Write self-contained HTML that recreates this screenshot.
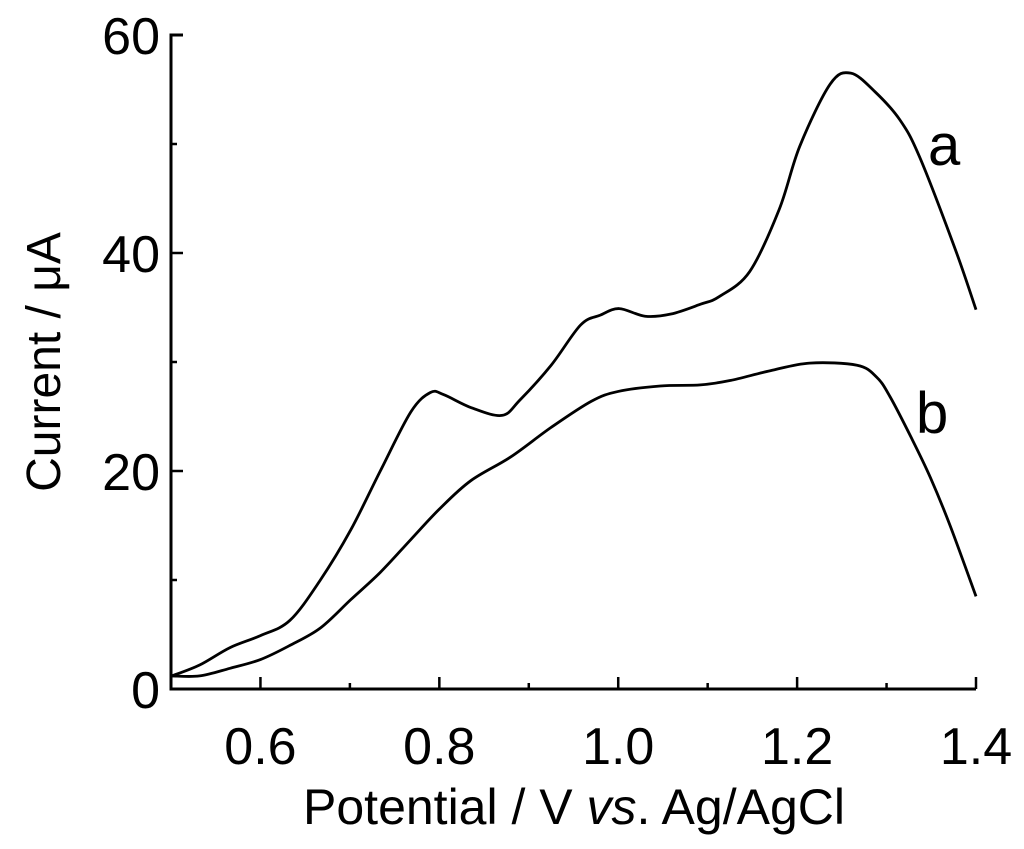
<!DOCTYPE html>
<html><head><meta charset="utf-8"><style>
html,body{margin:0;padding:0;background:#fff;}
svg{display:block;font-family:"Liberation Sans",sans-serif;}
</style></head><body>
<svg id="chart" width="1024" height="849"></svg>
<script>
const xTicks=[0.6,0.8,1.0,1.2,1.4];
const xTickLabels=["0.6","0.8","1.0","1.2","1.4"];
const yTicks=[0,20,40,60];
const yTickLabels=["0","20","40","60"];
const seriesAV=[0.501,0.532,0.566,0.6,0.633,0.667,0.701,0.734,0.768,0.79,0.805,0.836,0.87,0.89,0.925,0.958,0.98,1.001,1.03,1.059,1.092,1.113,1.147,1.18,1.203,1.237,1.26,1.287,1.315,1.337,1.377,1.4];
const seriesAI=[1.2,2.2,3.8,4.9,6.3,10,14.6,20,25.4,27.2,27,25.8,25.1,26.5,29.7,33.4,34.3,34.9,34.2,34.4,35.3,36,38.3,44,49.8,55.5,56.5,54.8,52.2,48.8,40.3,34.8];
const seriesBV=[0.501,0.532,0.566,0.6,0.633,0.667,0.701,0.734,0.768,0.8,0.835,0.88,0.925,0.97,1.0,1.047,1.092,1.125,1.17,1.214,1.267,1.289,1.304,1.328,1.349,1.371,1.4];
const seriesBI=[1.2,1.2,1.9,2.7,4.0,5.6,8.2,10.7,13.7,16.5,19.1,21.3,24.0,26.4,27.3,27.8,27.9,28.3,29.2,29.9,29.7,28.6,26.8,23.0,19.4,15.0,8.5];
const NS="http://www.w3.org/2000/svg";
const svg=document.getElementById('chart');
const X0=171,X1=976,YB=689,YT=35;
function xs(v){return X0+(v-0.5)/0.9*(X1-X0);}
function ys(v){return YB-(v/60)*(YB-YT);}
function mk(t,a){const e=document.createElementNS(NS,t);for(const k in a)e.setAttribute(k,a[k]);svg.appendChild(e);return e;}
let ax=mk('path',{d:`M${X0+12},${YT} L${X0},${YT} L${X0},${YB} L${X1},${YB}`,fill:'none',stroke:'#000','stroke-width':3});


for(let k=6;k<=14;k++){const v=k/10;const major=k%2==0;
 const t=mk('line',{x1:xs(v),x2:xs(v),y1:YB,y2:YB-(major?12:6),stroke:'#000','stroke-width':2.5});
 
 }
for(let v=10;v<60;v+=10){const major=v%20==0;
 const t=mk('line',{x1:X0,x2:X0+(major?12:6),y1:ys(v),y2:ys(v),stroke:'#000','stroke-width':2.5});
 
 }
xTicks.forEach((v,i)=>{const t=mk('text',{x:xs(v),y:764,'text-anchor':'middle','font-size':52});t.textContent=xTickLabels[i];
 
 });
yTicks.forEach((v,i)=>{const t=mk('text',{x:160,y:ys(v)+19,'text-anchor':'end','font-size':52});t.textContent=yTickLabels[i];
 
 });
function curve(V,I){const p=V.map((v,i)=>[xs(v),ys(I[i])]);let d=`M${p[0][0]},${p[0][1]}`;
 for(let i=0;i<p.length-1;i++){const a=p[Math.max(0,i-1)],b=p[i],c=p[i+1],e=p[Math.min(p.length-1,i+2)];
 d+=` C${b[0]+(c[0]-a[0])/6},${b[1]+(c[1]-a[1])/6} ${c[0]-(e[0]-b[0])/6},${c[1]-(e[1]-b[1])/6} ${c[0]},${c[1]}`;}return d;}
const la=mk('path',{d:curve(seriesAV,seriesAI),fill:'none',stroke:'#000','stroke-width':2.8});


const lb=mk('path',{d:curve(seriesBV,seriesBI),fill:'none',stroke:'#000','stroke-width':2.8});


const ta=mk('text',{x:928,y:165,'font-size':58});ta.textContent='a';


const tb=mk('text',{x:916,y:433,'font-size':58});tb.textContent='b';


const xt=mk('text',{x:574,y:824,'text-anchor':'middle','font-size':50});
xt.innerHTML='Potential / V <tspan font-style="italic">vs</tspan>. Ag/AgCl';


const yt=mk('text',{x:0,y:0,'text-anchor':'middle','font-size':48,transform:'translate(60,362) rotate(-90)'});
yt.textContent='Current / μA';


</script>
</body></html>
